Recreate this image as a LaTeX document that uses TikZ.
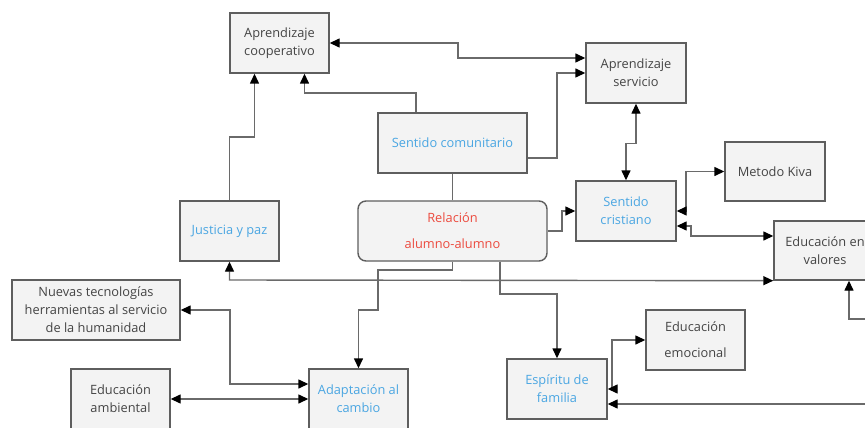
\documentclass[tikz,border=0pt]{standalone}
\usepackage{fontspec}
\setmainfont{Open Sans}
\usetikzlibrary{arrows.meta}
\definecolor{boxfill}{HTML}{F3F3F3}
\definecolor{boxline}{HTML}{5E5E5E}
\definecolor{wire}{HTML}{6A6A6A}
\definecolor{txtgray}{HTML}{444444}
\definecolor{txtblue}{HTML}{4AA6E2}
\definecolor{txtred}{HTML}{EC4A3E}
\tikzset{
  box/.style={draw=boxline, fill=boxfill, line width=1.4pt, inner sep=1pt, align=center,
    font=\fontsize{12.8}{18}\selectfont, text=txtgray, minimum width=99, minimum height=60},
  bluetxt/.style={text=txtblue},
  tip/.tip={Triangle[length=10pt,width=9pt,color=black]},
  wireline/.style={draw=wire, line width=1.4pt},
  to/.style={wireline, -tip},
  both/.style={wireline, tip-tip},
}
\begin{document}
\begin{tikzpicture}[x=1pt,y=-1pt]
\clip (0,0) rectangle (865,428);
\fill[white] (0,0) rectangle (865,428);
% nodes
\node[box] (AC) at (279.5,43) {Aprendizaje\\cooperativo};
\node[box, minimum width=100] (AS) at (636,73) {Aprendizaje\\servicio};
\node[box, bluetxt, minimum width=149] (SC) at (452.5,143) {Sentido comunitario};
\node[box, minimum width=189, rounded corners=8pt, text=txtred] (R) at (452.5,231) {Relación\\[8pt]alumno-alumno};
\node[box, bluetxt, minimum width=100] (SCr) at (626,211) {Sentido\\cristiano};
\node[box, minimum width=100, minimum height=59] (MK) at (775,171.5) {Metodo Kiva};
\node[box, minimum width=102, minimum height=59] (EV) at (825,250.5) {Educación en\\valores};
\node[box, bluetxt] (JP) at (229.5,231) {Justicia y paz};
\node[box, minimum width=168] (NT) at (96,310) {Nuevas tecnologías\\herramientas al servicio\\de la humanidad};
\node[box] (EA) at (120.5,399) {Educación\\ambiental};
\node[box, bluetxt] (AdC) at (358.5,399) {Adaptación al\\cambio};
\node[box, bluetxt, minimum width=100] (EF) at (557,389) {Espíritu de\\familia};
\node[box] (EE) at (695.5,340) {Educación\\[8pt]emocional};
\coordinate (offA) at (870,404);
\coordinate (offB) at (870,319);
% connectors
\draw[both] (AC.east) -- (458,43) -- (458,58) -- ([yshift=15]AS.west);
\draw[to] ([yshift=-15]SC.east) -- (557,158) -- (557,73) -- (AS.west);
\draw[to] ([xshift=-36.5]SC.north) -- (416,93) -- (304.5,93) -- ([xshift=25]AC.south);
\draw[to] (JP.north) -- (229.5,137) -- (254.5,137) -- ([xshift=-25]AC.south);
\draw[wireline] (R.north) -- (SC.south);
\draw[both] (AS.south) -- (636,143.7) -- (626,143.7) -- (SCr.north);
\draw[to] (R.east) -- (562,231) -- (562,211) -- (SCr.west);
\draw[both] (SCr.east) -- (686,211) -- (686,171.5) -- (MK.west);
\draw[both] ([yshift=-15]SCr.east) -- (691,226) -- (691,236) -- ([yshift=14.5]EV.west);
\draw[both] (JP.south) -- (229.5,280) -- (EV.south west);
\draw[to] (R.south) -- (452.5,270) -- (378,270) -- (378,310) -- (358.5,310) -- (AdC.north);
\draw[to] ([xshift=47.5]R.south) -- (500,294) -- (557,294) -- (EF.north);
\draw[both] (NT.east) -- (230,310) -- (230,384) -- ([yshift=15]AdC.west);
\draw[both] (EA.east) -- (AdC.west);
\draw[both] (EF.east) -- (612,389) -- (612,340) -- (EE.west);
\draw[to] (offA) -- ([yshift=-15]EF.east);
\draw[to] (offB) -- (849,319) -- ([xshift=24]EV.south);
\end{tikzpicture}
\end{document}
